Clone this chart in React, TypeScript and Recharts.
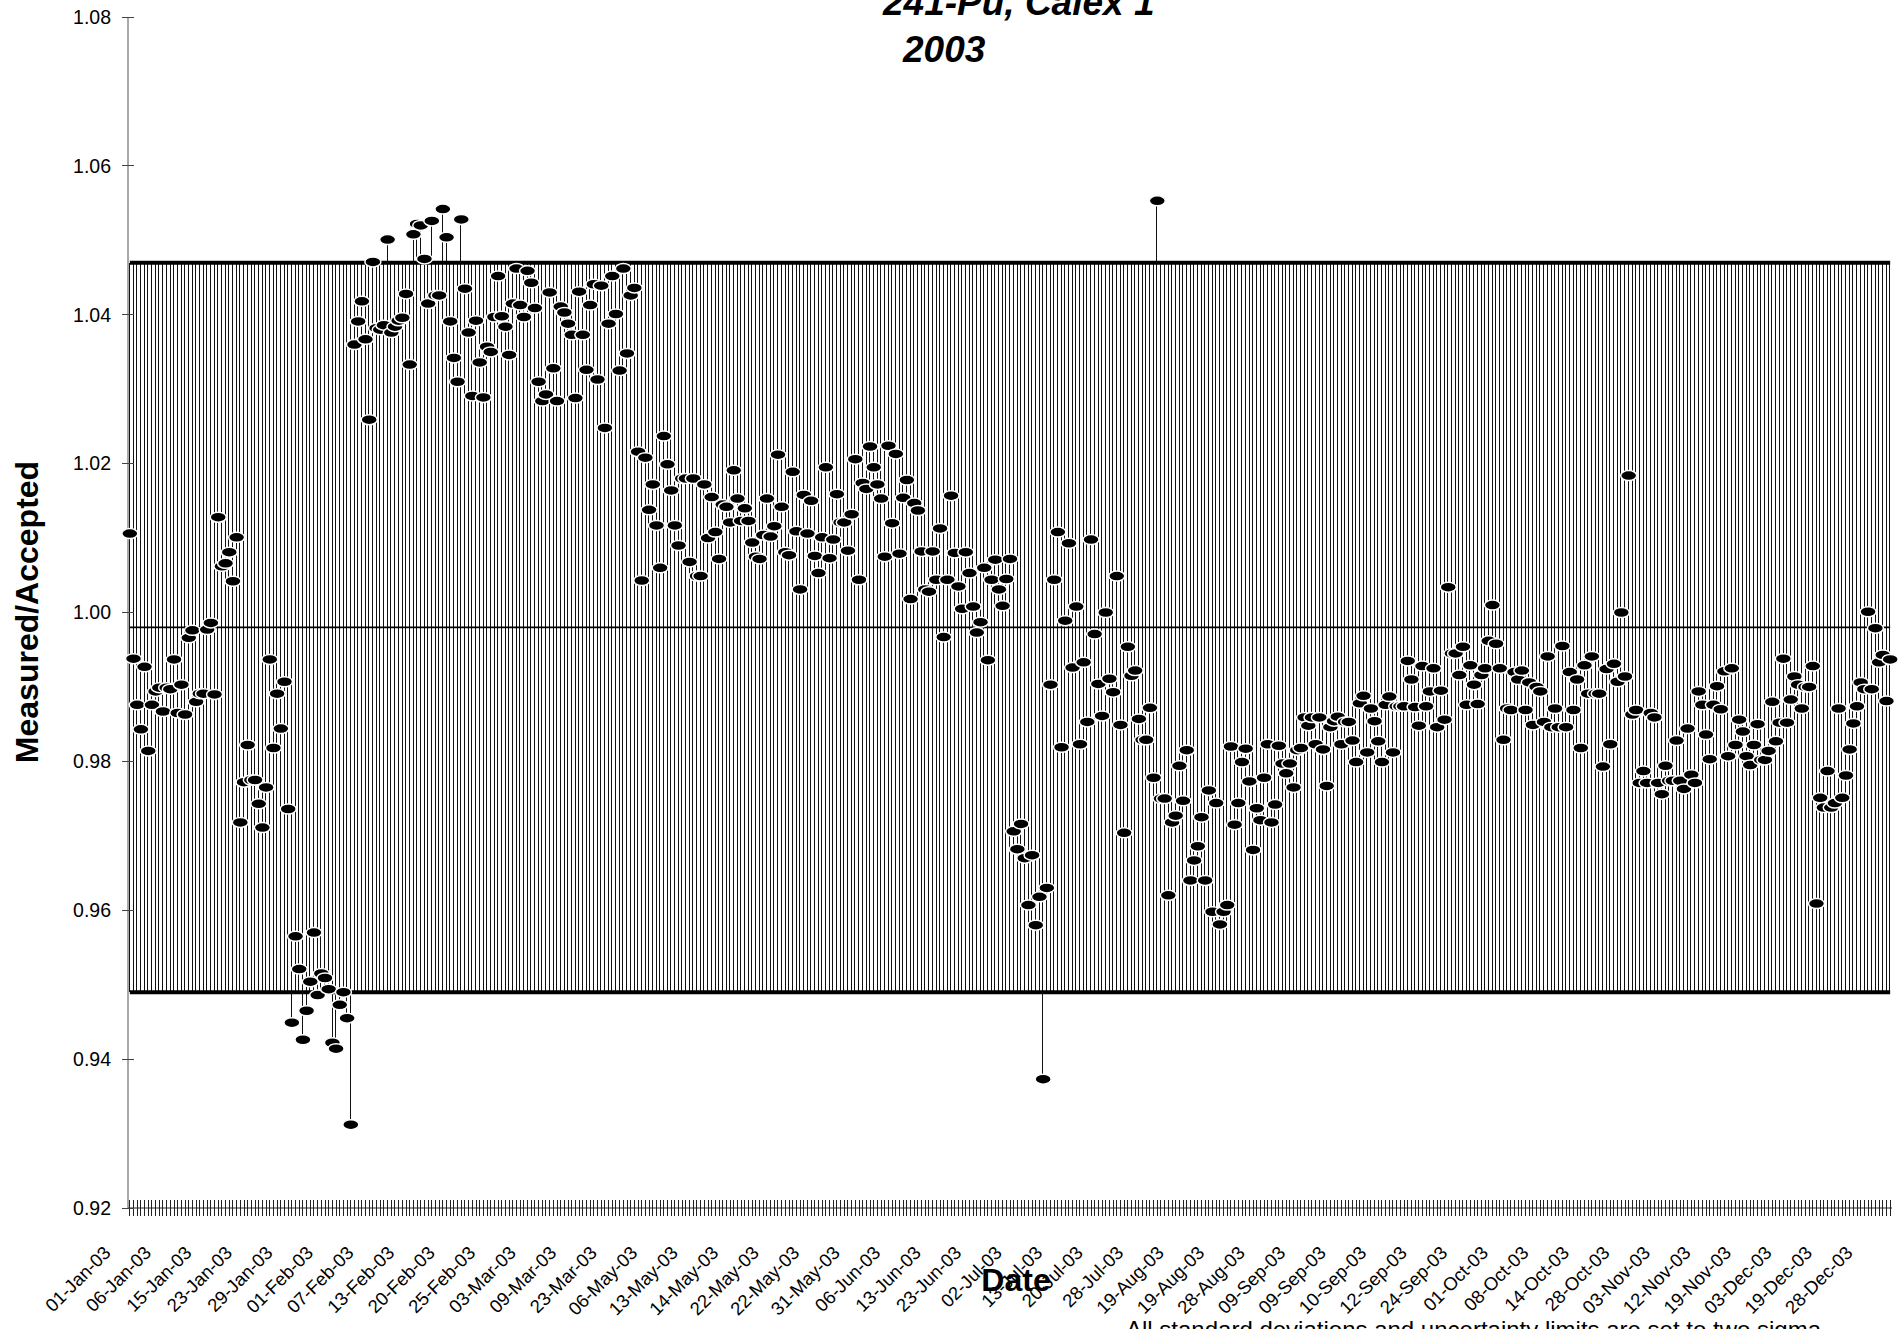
import React from "react";
import { Bar, ComposedChart, Line, XAxis, YAxis } from "recharts";

// one axis label every 11 measurements
const LABEL_EVERY = 11;

const labelDates = [
  "01-Jan-03", "06-Jan-03", "15-Jan-03", "23-Jan-03", "29-Jan-03", "01-Feb-03", "07-Feb-03", "13-Feb-03",
  "20-Feb-03", "25-Feb-03", "03-Mar-03", "09-Mar-03", "23-Mar-03", "06-May-03", "13-May-03", "14-May-03",
  "22-May-03", "22-May-03", "31-May-03", "06-Jun-03", "13-Jun-03", "23-Jun-03", "02-Jul-03", "13-Jul-03",
  "20-Jul-03", "28-Jul-03", "19-Aug-03", "19-Aug-03", "28-Aug-03", "09-Sep-03", "09-Sep-03", "10-Sep-03",
  "12-Sep-03", "24-Sep-03", "01-Oct-03", "08-Oct-03", "14-Oct-03", "28-Oct-03", "03-Nov-03", "12-Nov-03",
  "19-Nov-03", "03-Dec-03", "19-Dec-03", "28-Dec-03",
];

const measuredPart1 = [
  1.0106, 0.9938, 0.9876, 0.9843, 0.9927, 0.9814, 0.9876, 0.9894, 0.9899, 0.9867,
  0.9899, 0.9897, 0.9937, 0.9865, 0.9903, 0.9863, 0.9966, 0.9976, 0.988, 0.9891,
  0.9891, 0.9977, 0.9986, 0.989, 1.0128, 1.0062, 1.0066, 1.0081, 1.0042, 1.0101,
  0.9718, 0.9772, 0.9822, 0.9775, 0.9775, 0.9743, 0.9711, 0.9765, 0.9937, 0.9818,
  0.9891, 0.9844, 0.9907, 0.9736, 0.9449, 0.9565, 0.9521, 0.9426, 0.9465, 0.9504,
  0.957, 0.9486, 0.9515, 0.9509, 0.9494, 0.9422, 0.9414, 0.9473, 0.949, 0.9455,
  0.9312, 1.036, 1.0391, 1.0418, 1.0367, 1.0259, 1.0471, 1.0382, 1.038, 1.0386,
  1.0501, 1.0376, 1.0384, 1.0392, 1.0396, 1.0428, 1.0333, 1.0508, 1.0522, 1.052,
  1.0475, 1.0415, 1.0526, 1.0426, 1.0426, 1.0542, 1.0504, 1.0391, 1.0342, 1.031,
  1.0528, 1.0435, 1.0376, 1.0291, 1.0392, 1.0336, 1.0289, 1.0357, 1.035, 1.0397,
  1.0452, 1.0398, 1.0384, 1.0346, 1.0415, 1.0462, 1.0413, 1.0397, 1.0459, 1.0443,
  1.0409, 1.031, 1.0284, 1.0293, 1.043, 1.0328, 1.0284, 1.0411, 1.0403, 1.0388,
  1.0373, 1.0288, 1.0431, 1.0373, 1.0326, 1.0413, 1.0441, 1.0313, 1.0439, 1.0248,
  1.0388, 1.0452, 1.0401, 1.0325, 1.0462, 1.0348, 1.0426, 1.0436, 1.0216, 1.0043,
  1.0208, 1.0138, 1.0172, 1.0117, 1.006, 1.0237, 1.0199, 1.0164, 1.0117, 1.009,
  1.018, 1.018, 1.0068, 1.018, 1.0049, 1.0049, 1.0172, 1.01, 1.0155, 1.0108,
  1.0072, 1.0145,
];

const measuredPart2 = [
  1.0142, 1.0121, 1.0191, 1.0153, 1.0123, 1.014, 1.0123, 1.0094, 1.0075, 1.0072,
  1.0104, 1.0153, 1.0102, 1.0116, 1.0212, 1.0142, 1.0081, 1.0077, 1.0189, 1.0109,
  1.0031, 1.0158, 1.0106, 1.015, 1.0076, 1.0053, 1.0101, 1.0195, 1.0073, 1.0098,
  1.0159, 1.0121, 1.0121, 1.0083, 1.0132, 1.0206, 1.0044, 1.0174, 1.0166, 1.0223,
  1.0195, 1.0172, 1.0153, 1.0075, 1.0224, 1.012, 1.0213, 1.0079, 1.0154, 1.0178,
  1.0018, 1.0147, 1.0137, 1.0082, 1.0031, 1.0028, 1.0082, 1.0044, 1.0113, 0.9967,
  1.0044, 1.0157, 1.008, 1.0035, 1.0005, 1.0081, 1.0053, 1.0008, 0.9973, 0.9987,
  1.006, 0.9936, 1.0044, 1.0071, 1.0031, 1.0009, 1.0045, 1.0072, 0.9706, 0.9682,
  0.9716, 0.967, 0.9607, 0.9674, 0.958, 0.9618, 0.9373, 0.963, 0.9903, 1.0044,
  1.0108, 0.9819, 0.9989, 1.0093, 0.9926, 1.0008, 0.9823, 0.9933, 0.9853, 1.0098,
  0.9971, 0.9904, 0.9861, 1.0, 0.9911, 0.9893, 1.0049, 0.9849, 0.9704, 0.9954,
  0.9915, 0.9922, 0.9857, 0.9829, 0.9829, 0.9872, 0.9778, 1.0553, 0.975, 0.975,
  0.962, 0.9718, 0.9727, 0.9794, 0.9747, 0.9815, 0.964, 0.9667, 0.9686, 0.9725,
  0.964, 0.9761, 0.9598, 0.9744, 0.9581, 0.9598, 0.9607, 0.982, 0.9715, 0.9744,
  0.9799, 0.9817, 0.9773, 0.9681, 0.9737, 0.9721, 0.9778, 0.9823, 0.9718, 0.9742,
  0.9821, 0.9797, 0.9784, 0.9797, 0.9765, 0.9815,
];

const measuredPart3 = [
  0.9818, 0.9859, 0.9848, 0.9859, 0.9823, 0.9859, 0.9816, 0.9767, 0.9846, 0.9854,
  0.986, 0.9823, 0.9853, 0.9853, 0.9828, 0.9799, 0.9878, 0.9888, 0.9812, 0.9871,
  0.9854, 0.9827, 0.9799, 0.9876, 0.9887, 0.9812, 0.9874, 0.9874, 0.9874, 0.9935,
  0.991, 0.9873, 0.9848, 0.9928, 0.9874, 0.9894, 0.9925, 0.9846, 0.9895, 0.9856,
  1.0034, 0.9945, 0.9945, 0.9916, 0.9954, 0.9876, 0.9929, 0.9903, 0.9877, 0.9916,
  0.9925, 0.9962, 1.001, 0.9958, 0.9925, 0.9829, 0.9871, 0.9869, 0.992, 0.991,
  0.9922, 0.9869, 0.9906, 0.9849, 0.99, 0.9894, 0.9853, 0.9941, 0.9846, 0.9871,
  0.9846, 0.9955, 0.9846, 0.992, 0.9869, 0.991, 0.9818, 0.9929, 0.9891, 0.9941,
  0.9891, 0.9891, 0.9793, 0.9924, 0.9823, 0.9931, 0.9907, 1.0, 0.9914, 1.0184,
  0.9863, 0.9869, 0.9771, 0.9787, 0.9771, 0.9865, 0.9859, 0.9771, 0.9756, 0.9794,
  0.9774, 0.9774, 0.9828, 0.9774, 0.9763, 0.9844, 0.9782, 0.9771, 0.9894, 0.9876,
  0.9836, 0.9803, 0.9876, 0.9901, 0.987, 0.9921, 0.9807, 0.9925, 0.9822, 0.9856,
  0.984, 0.9807, 0.9795, 0.9822, 0.985, 0.9802, 0.9802, 0.9814, 0.988, 0.9827,
  0.9852, 0.9938, 0.9852, 0.9883, 0.9914, 0.9903, 0.9871, 0.99, 0.99, 0.9928,
  0.9609, 0.9751, 0.9738, 0.9787, 0.9738, 0.9744, 0.9871, 0.9751, 0.9781, 0.9816,
  0.9851, 0.9874, 0.9906, 0.9897, 1.0001, 0.9897, 0.9979, 0.9933, 0.9943, 0.9881,
  0.9937,
];

const upperLimit = 1.047;
const meanValue = 0.998;
const lowerLimit = 0.949;
const yTicks = [0.92, 0.94, 0.96, 0.98, 1.0, 1.02, 1.04, 1.06, 1.08];

const measured = [...measuredPart1, ...measuredPart2, ...measuredPart3];

// high-low line spans every series at each date, like Excel's high-low lines
const rows = measured.map((v, i) => ({
  idx: i,
  date: labelDates[Math.floor(i / LABEL_EVERY)],
  measured: v,
  range: [Math.min(v, lowerLimit), Math.max(v, upperLimit)],
  upper: upperLimit,
  mean: meanValue,
  lower: lowerLimit,
}));

const FONT = "'Liberation Sans', Arial, Helvetica, sans-serif";

function DateTick(props: any) {
  const { x, y, payload } = props;
  const i = payload.value as number;
  const showLabel = i % LABEL_EVERY === 0;
  return (
    <g>
      <line x1={x} x2={x} y1={y - 8} y2={y + 8} stroke="#222" strokeWidth={1} shapeRendering="crispEdges" />
      {showLabel && (
        <text
          transform={`translate(${x - 18},${y + 46}) rotate(-45)`}
          textAnchor="end"
          fontSize={18.5}
          fontFamily={FONT}
          fill="#000"
        >
          {rows[i].date}
        </text>
      )}
    </g>
  );
}

function ValueTick(props: any) {
  const { x, y, payload } = props;
  return (
    <g>
      <line x1={x - 6} x2={x + 6} y1={y} y2={y} stroke="#444" strokeWidth={1} shapeRendering="crispEdges" />
      <text x={x - 17} y={y} dy="0.35em" textAnchor="end" fontSize={19.5} fontFamily={FONT} fill="#000">
        {Number(payload.value).toFixed(2)}
      </text>
    </g>
  );
}

function HighLowShape(props: any) {
  const { x, y, height } = props;
  if (x == null || y == null) return null;
  return <rect x={Math.round(x)} y={y} width={1} height={height} fill="#111" shapeRendering="crispEdges" />;
}

function MarkerDot(props: any) {
  const { cx, cy, index } = props;
  if (cx == null || cy == null) return null;
  return <ellipse key={`m-${index}`} cx={cx} cy={cy} rx={8} ry={5} fill="#000" stroke="#fff" strokeWidth={1.5} />;
}

export default function App() {
  return (
    <div style={{ position: "absolute", left: 0, top: 0, width: 1898, height: 1329, overflow: "hidden", background: "#fff" }}>
      <ComposedChart width={1898} height={1329} data={rows} margin={{ top: 17, right: 6, bottom: 0, left: 0 }}>
        <XAxis
          dataKey="idx"
          type="category"
          interval={0}
          height={121}
          tickSize={0}
          tickMargin={0}
          tickLine={false}
          axisLine={{ stroke: "#222" }}
          tick={<DateTick />}
        />
        <YAxis
          type="number"
          domain={[0.92, 1.08]}
          ticks={yTicks}
          interval={0}
          width={128}
          tickSize={0}
          tickMargin={0}
          tickLine={false}
          allowDataOverflow
          axisLine={{ stroke: "#555" }}
          tick={<ValueTick />}
        />
        <Bar dataKey="range" barSize={1} shape={<HighLowShape />} isAnimationActive={false} />
        <Line type="linear" dataKey="upper" stroke="#000" strokeWidth={4} dot={false} activeDot={false} isAnimationActive={false} />
        <Line type="linear" dataKey="mean" stroke="#000" strokeWidth={1.6} dot={false} activeDot={false} isAnimationActive={false} />
        <Line type="linear" dataKey="lower" stroke="#000" strokeWidth={4} dot={false} activeDot={false} isAnimationActive={false} />
        <Line
          type="linear"
          dataKey="measured"
          stroke="none"
          dot={MarkerDot}
          activeDot={false}
          isAnimationActive={false}
        />
      </ComposedChart>
      <svg width={1898} height={1329} style={{ position: "absolute", left: 0, top: 0, pointerEvents: "none" }}>
        <text x={883} y={15} fontSize={37} fontWeight="bold" fontStyle="italic" fontFamily={FONT} fill="#000">
          241-Pu, Calex 1
        </text>
        <text x={903} y={62} fontSize={37} fontWeight="bold" fontStyle="italic" fontFamily={FONT} fill="#000">
          2003
        </text>
        <text
          transform="translate(38,612) rotate(-90)"
          textAnchor="middle"
          fontSize={32}
          fontWeight="bold"
          fontFamily={FONT}
          fill="#000"
        >
          Measured/Accepted
        </text>
        <text x={1016} y={1291} textAnchor="middle" fontSize={32} fontWeight="bold" fontFamily={FONT} fill="#000">
          Date
        </text>
        <text x={1126} y={1338} fontSize={24} fontFamily={FONT} fill="#000">
          All standard deviations and uncertainty limits are set to two sigma
        </text>
      </svg>
    </div>
  );
}
